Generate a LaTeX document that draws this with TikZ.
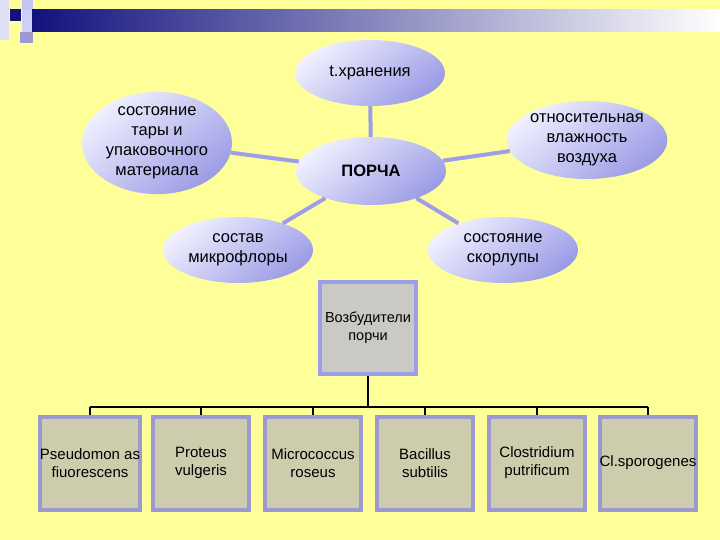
\documentclass[tikz,border=0pt]{standalone}
\usepackage{fontspec}
\setmainfont{Liberation Sans}
\usepackage{xcolor}
\usepackage{tikz}
\usetikzlibrary{shapes.geometric}

\definecolor{bgyellow}{HTML}{FFFF99}
\definecolor{navy}{HTML}{12127E}
\definecolor{ellTop}{HTML}{F0F0FF}
\definecolor{ellBot}{HTML}{9C9CE6}
\definecolor{linkblue}{HTML}{9E9EE8}
\definecolor{boxrim}{HTML}{9A9AD0}
\definecolor{boxfill}{HTML}{CDCDAE}
\definecolor{mainrim}{HTML}{9C9CEC}
\definecolor{mainfill}{HTML}{CACAC4}

\tikzset{
  factor/.style={ellipse, minimum width=150pt, minimum height=66pt, inner sep=0pt,
    align=center, font=\fontsize{16.5}{20}\selectfont,
    top color=ellTop, bottom color=ellBot, shading angle=40},
  link/.style={line width=4pt, color=linkblue},
  germ/.style={draw=boxrim, line width=4pt, fill=boxfill, minimum width=96pt,
    minimum height=93pt, inner sep=0pt, align=center, font=\fontsize{15}{18}\selectfont},
  tree/.style={line width=2pt, black}
}

\begin{document}
\begin{tikzpicture}[x=1pt,y=-1pt]
    % background and title bar
    \fill[bgyellow] (0,0) rectangle (720,540);
    \useasboundingbox (0,0) rectangle (720,540);
    \fill[ellTop!80!boxrim] (0,0) rectangle (9,40);
    \fill[mainrim!60] (22,0) rectangle (33,10);
    \fill[mainrim!50] (22,10) rectangle (43,32);
    \fill[boxrim] (20,32) rectangle (33,43);
    \fill[navy] (10,9) rectangle (21,21);
    \shade[left color=navy, right color=white] (32,10) rectangle (720,32);

    % factors
      \node[factor] (store) at (370,73) {t.хранения};
      \node[factor, minimum height=80pt] (pack) at (157,143) {состояние\\тары и\\упаковочного\\материала};
      \node[factor, font=\fontsize{16.5}{20}\selectfont\bfseries, minimum height=68pt] (spoil) at (371,171) {ПОРЧА};
      \node[factor, minimum height=78pt] (humid) at (587,140) {относительная\\влажность\\воздуха};
      \node[factor] (flora) at (238,250) {состав\\микрофлоры};
      \node[factor] (shell) at (503,250) {состояние\\скорлупы};
      \draw[link] (store) -- (spoil);
      \draw[link] (pack) -- (spoil);
      \draw[link] (humid) -- (spoil);
      \draw[link] (flora) -- (spoil);
      \draw[link] (shell) -- (spoil);

    % agents
      \node[germ, draw=mainrim, fill=mainfill, minimum height=92pt, font=\fontsize{14.5}{18}\selectfont] (germs) at (368,328) {Возбудители\\порчи};
      \node[germ] (g1) at (90,463) {Pseudomon as\\fiuorescens};
      \node[germ] (g2) at (201,463) {Proteus\\vulgeris};
      \node[germ] (g3) at (313,463) {Micrococcus\\roseus};
      \node[germ] (g4) at (425,463) {Bacillus\\subtilis};
      \node[germ] (g5) at (537,463) {Clostridium\\putrificum};
      \node[germ] (g6) at (648,463) {Cl.sporogenes};
      \coordinate (bus) at (368,407);
      \draw[tree] (germs.south) -- (bus);
      \draw[tree] (g1.north |- bus) -- (g6.north |- bus);
      \foreach \g in {g1,g2,g3,g4,g5,g6}
        \draw[tree] (\g.north |- bus) -- (\g.north);
\end{tikzpicture}
\end{document}
